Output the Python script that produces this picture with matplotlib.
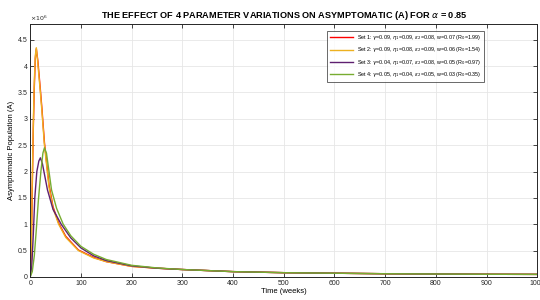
import numpy as np
import matplotlib
matplotlib.use("Agg")
import matplotlib.pyplot as plt
from matplotlib.ticker import FuncFormatter

plt.rcParams['font.family'] = ['Liberation Sans', 'DejaVu Sans']
plt.rcParams['mathtext.fontset'] = 'dejavusans'

# values, in units of 10^6
t1 = [0, 2, 4, 6, 8, 10, 12, 15, 20, 23, 28, 37, 45, 56, 70, 95, 125, 150, 200, 250, 300, 400, 500, 600, 700, 800, 900, 1000]
a1 = [0, 0.45, 1.7, 2.8, 3.6, 4.15, 4.33, 4.1, 3.55, 3.2, 2.55, 1.75, 1.33, 1.02, 0.77, 0.51, 0.37, 0.29, 0.2, 0.165, 0.14, 0.1, 0.08, 0.07, 0.06, 0.055, 0.05, 0.048]
t2 = [0, 2, 4, 6, 8, 10, 12, 15, 20, 23, 28, 37, 45, 56, 70, 95, 125, 150, 200, 250, 300, 400, 500, 600, 700, 800, 900, 1000]
a2 = [0, 0.5, 1.8, 2.9, 3.7, 4.2, 4.35, 4.05, 3.5, 3.15, 2.5, 1.7, 1.3, 1.0, 0.75, 0.5, 0.36, 0.29, 0.2, 0.165, 0.14, 0.1, 0.08, 0.07, 0.06, 0.055, 0.05, 0.048]
t3 = [0, 3, 6, 9, 13, 17, 20, 24, 28, 34, 45, 61, 80, 100, 125, 150, 200, 250, 300, 400, 500, 600, 700, 800, 900, 1000]
a3 = [0, 0.2, 0.8, 1.5, 2.0, 2.2, 2.26, 2.15, 1.95, 1.65, 1.28, 1.0, 0.74, 0.55, 0.4, 0.31, 0.21, 0.165, 0.14, 0.1, 0.08, 0.07, 0.06, 0.055, 0.05, 0.048]
t4 = [0, 4, 8, 12, 16, 21, 25, 28, 32, 37, 42, 52, 65, 80, 100, 125, 150, 200, 250, 300, 400, 500, 600, 700, 800, 900, 1000]
a4 = [0, 0.1, 0.4, 0.9, 1.45, 2.0, 2.35, 2.45, 2.35, 2.0, 1.65, 1.3, 1.0, 0.78, 0.58, 0.43, 0.33, 0.22, 0.17, 0.14, 0.1, 0.08, 0.07, 0.06, 0.055, 0.05, 0.048]

labels = [
    r"Set 1: $\gamma$=0.09, $\eta_1$=0.09, $\varepsilon_2$=0.08, w=0.07 (R$_0$=1.99)",
    r"Set 2: $\gamma$=0.09, $\eta_1$=0.08, $\varepsilon_2$=0.09, w=0.06 (R$_0$=1.54)",
    r"Set 3: $\gamma$=0.04, $\eta_1$=0.07, $\varepsilon_2$=0.08, w=0.05 (R$_0$=0.97)",
    r"Set 4: $\gamma$=0.05, $\eta_1$=0.04, $\varepsilon_2$=0.05, w=0.03 (R$_0$=0.35)",
]
colors = ["#FF0000", "#EDB120", "#5E1F70", "#77AC30"]

fig = plt.figure(figsize=(5.4, 3.0), dpi=100)
ax = fig.add_axes([0.056, 0.077, 0.939, 0.843])

for t, a, lab, c in zip([t1, t2, t3, t4], [a1, a2, a3, a4], labels, colors):
    ax.plot(t, a, color=c, lw=1.0, label=lab)

ax.set_xlim(0, 1000)
ax.set_ylim(0, 4.8)
ax.set_xticks(np.arange(0, 1001, 100))
ax.set_yticks(np.arange(0, 4.6, 0.5))
ax.yaxis.set_major_formatter(FuncFormatter(lambda v, p: "%g" % v))
ax.grid(True, color="#e6e6e6", lw=0.6)
ax.set_axisbelow(True)
ax.tick_params(direction="in", length=3, width=0.6, labelsize=5, pad=2, top=True, right=True, colors="#262626")
for s in ax.spines.values():
    s.set_linewidth(0.7)
    s.set_color("#262626")

ax.text(0, 1.005, r"$\times10^{6}$", transform=ax.transAxes, fontsize=4.5, color="#262626", va="bottom", ha="left")
ax.set_xlabel("Time (weeks)", fontsize=5.5, labelpad=1)
ax.set_ylabel("Asymptomatic Population (A)", fontsize=5.5, labelpad=2)
ax.set_title(r"THE EFFECT OF 4 PARAMETER VARIATIONS ON ASYMPTOMATIC (A) FOR $\alpha$ = 0.85",
             fontsize=6.6, fontweight="bold", pad=4)

leg = ax.legend(loc="upper right", bbox_to_anchor=(0.9, 0.985), fontsize=3.9, handlelength=4.2,
                frameon=True, fancybox=False, edgecolor="#262626", borderpad=0.5, labelspacing=0.6)
leg.get_frame().set_linewidth(0.6)

fig.savefig("out.png", dpi=100)
